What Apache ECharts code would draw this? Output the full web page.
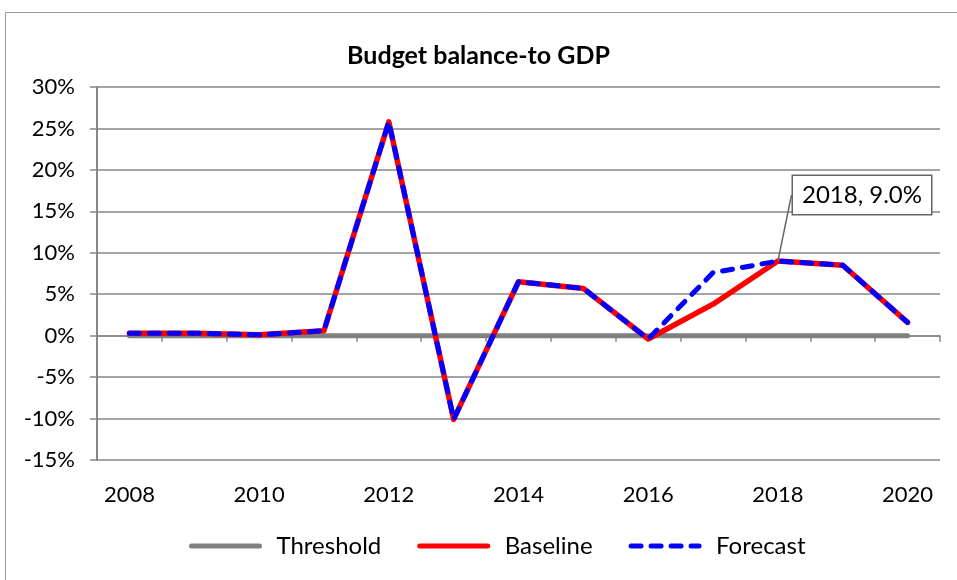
<!DOCTYPE html>
<html>
<head>
<meta charset="utf-8">
<script src="https://cdn.jsdelivr.net/npm/echarts@6/dist/echarts.min.js"></script>
<style>
  html, body { margin: 0; padding: 0; background: #fff; }
  #chart { width: 957px; height: 580px; }
</style>
</head>
<body>
<div id="chart"></div>
<script>
// chart data
const years = ['2008', '2009', '2010', '2011', '2012', '2013', '2014', '2015', '2016', '2017', '2018', '2019', '2020'];
const threshold = [0, 0, 0, 0, 0, 0, 0, 0, 0, 0, 0, 0, 0];
const baseline = [0.3, 0.3, 0.1, 0.6, 25.8, -10.1, 6.5, 5.7, -0.4, 3.8, 9.0, 8.5, 1.6];
const forecast = [0.3, 0.3, 0.1, 0.6, 25.8, -10.1, 6.5, 5.7, -0.4, 7.6, 9.0, 8.5, 1.6];
const calloutIndex = 10;

const font = 'Lato, "Open Sans", sans-serif';
const grey = '#868686';

const chart = echarts.init(document.getElementById('chart'));

const option = {
  animation: false,
  textStyle: { fontFamily: font },
  title: {
    text: 'Budget balance-to GDP',
    left: 'center',
    top: 38,
    textStyle: { fontSize: 25, fontWeight: 'bold', color: '#000', fontFamily: font }
  },
  graphic: [{
    type: 'rect',
    shape: { x: 5.5, y: 12.5, width: 1000, height: 700 },
    style: { fill: 'none', stroke: '#999', lineWidth: 1 },
    silent: true
  }],
  legend: {
    bottom: 17,
    left: 184,
    itemWidth: 68,
    itemHeight: 14,
    itemGap: 36,
    itemStyle: { opacity: 0 },
    lineStyle: { width: 5, cap: 'round' },
    textStyle: { fontSize: 24, color: '#000', fontFamily: font, padding: [0, 0, 0, 12] },
    data: ['Threshold', 'Baseline', 'Forecast']
  },
  grid: { left: 97, right: 17, top: 87, bottom: 120 },
  xAxis: [{
    type: 'category',
    data: years,
    position: 'bottom',
    axisLine: { show: false, onZero: false },
    axisTick: { show: false },
    axisLabel: { interval: 1, fontSize: 22, color: '#000', margin: 24, fontFamily: font }
  }, {
    type: 'category',
    data: years,
    position: 'bottom',
    axisLine: { show: true, onZero: true, lineStyle: { color: grey, width: 1.5 } },
    axisTick: { show: true, interval: 0, length: 6, lineStyle: { color: grey, width: 1.5 } },
    axisLabel: { show: false }
  }],
  yAxis: {
    type: 'value',
    min: -15,
    max: 30,
    interval: 5,
    axisLine: { show: true, onZero: false, lineStyle: { color: grey, width: 2 } },
    axisTick: { show: true, length: 7, lineStyle: { color: grey, width: 1.5 } },
    axisLabel: { formatter: '{value}%', fontSize: 22, color: '#000', margin: 22, fontFamily: font },
    splitLine: { lineStyle: { color: grey, width: 1.5 } }
  },
  series: [{
    name: 'Threshold',
    type: 'line',
    data: threshold,
    symbol: 'none',
    lineStyle: { color: '#808080', width: 5, cap: 'round' },
    itemStyle: { color: '#808080' },
    z: 2
  }, {
    name: 'Baseline',
    type: 'line',
    data: baseline,
    symbol: 'none',
    lineStyle: { color: '#ff0000', width: 5.5, cap: 'round', join: 'round' },
    itemStyle: { color: '#ff0000' },
    z: 3
  }, {
    name: 'Forecast',
    type: 'line',
    symbol: 'circle',
    symbolSize: 0.01,
    showSymbol: true,
    data: forecast.map((v, i) => i === calloutIndex ? {
      value: v,
      label: {
        show: true,
        formatter: years[i] + ', ' + v.toFixed(1) + '%'
      }
    } : v),
    label: {
      show: false,
      fontSize: 24,
      color: '#000',
      fontFamily: font,
      backgroundColor: '#fff',
      borderColor: '#666',
      borderWidth: 1.5,
      padding: [8, 9, 6, 9]
    },
    labelLine: { show: true, lineStyle: { color: '#666', width: 1.5 } },
    labelLayout: { x: 862, y: 195, align: 'center', verticalAlign: 'middle' },
    lineStyle: { color: '#0000ff', width: 5, type: [10, 10], cap: 'round', join: 'round' },
    itemStyle: { color: '#0000ff' },
    z: 4
  }]
};

chart.setOption(option);
</script>
</body>
</html>
